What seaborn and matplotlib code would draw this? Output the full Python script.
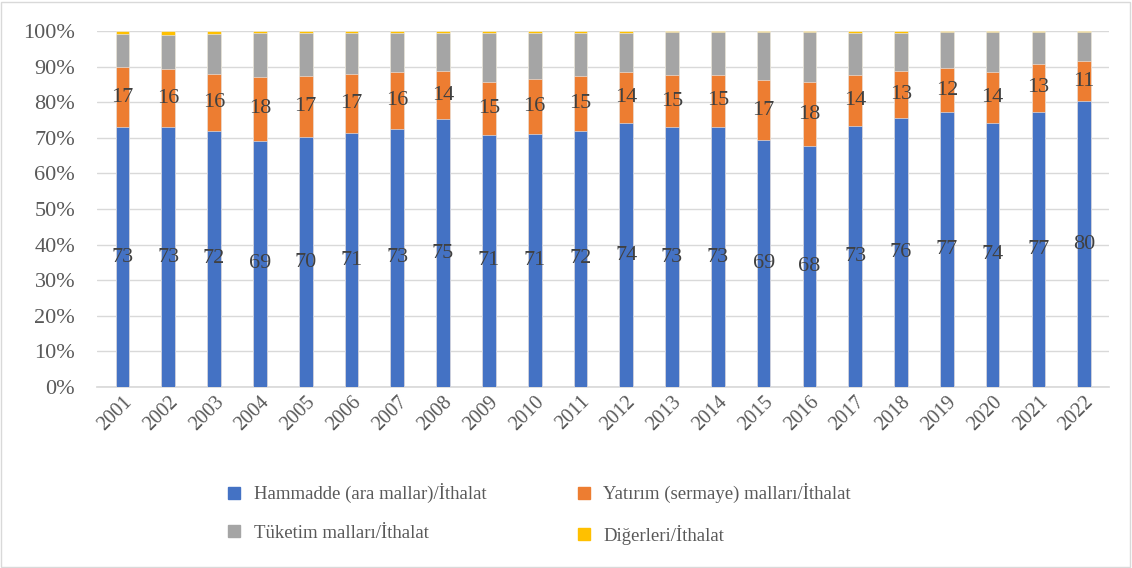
import numpy as np
import pandas as pd
import matplotlib.pyplot as plt
import seaborn as sns
from matplotlib.patches import Rectangle
from matplotlib.lines import Line2D

# ---------------------------------------------------------------------------
# Data (shares of imports, %)
# ---------------------------------------------------------------------------
years = [str(y) for y in range(2001, 2023)]
hammadde = [73.0, 73.0, 71.9, 69.2, 70.2, 71.3, 72.6, 75.2, 70.8, 71.0, 71.9,
            74.1, 73.0, 73.0, 69.3, 67.7, 73.4, 75.7, 77.3, 74.3, 77.4, 80.3]
yatirim = [16.9, 16.3, 16.2, 17.9, 17.3, 16.7, 16.0, 13.7, 15.0, 15.5, 15.4,
           14.3, 14.6, 14.8, 17.0, 18.0, 14.2, 13.0, 12.3, 14.3, 13.3, 11.2]
digerleri = [0.8, 1.1, 0.7, 0.5, 0.5, 0.4, 0.5, 0.4, 0.6, 0.4, 0.4,
             0.4, 0.3, 0.3, 0.3, 0.3, 0.4, 0.4, 0.3, 0.3, 0.2, 0.1]
tuketim = [100 - h - y - d for h, y, d in zip(hammadde, yatirim, digerleri)]

series = ["Hammadde (ara mallar)/İthalat", "Yatırım (sermaye) malları/İthalat",
          "Tüketim malları/İthalat", "Diğerleri/İthalat"]
colors = ["#4472C4", "#ED7D31", "#A5A5A5", "#FFC000"]

df = pd.DataFrame({"year": years, "h": hammadde, "y": yatirim,
                   "t": tuketim, "d": digerleri})
df["c1"] = df["h"]
df["c2"] = df["c1"] + df["y"]
df["c3"] = df["c2"] + df["t"]
df["c4"] = df["c3"] + df["d"]

# ---------------------------------------------------------------------------
# Plot
# ---------------------------------------------------------------------------
sns.set_theme(style="white")
plt.rcParams["font.family"] = ["Liberation Serif", "DejaVu Serif"]

fig, ax = plt.subplots(figsize=(11.32, 5.68), dpi=100)
fig.subplots_adjust(left=0.086, right=0.98, top=0.945, bottom=0.319)

# stacked bars: draw cumulative totals back to front
for col, color in zip(["c4", "c3", "c2", "c1"], colors[::-1]):
    sns.barplot(data=df, x="year", y=col, color=color, width=0.30,
                saturation=1, edgecolor="#f2f2f2", linewidth=0.4, ax=ax, zorder=3)

# data labels
for i, row in df.iterrows():
    ax.text(i, row["h"] / 2, f"{row['h']:.0f}", ha="center", va="center",
            fontsize=16, color="#404040", zorder=5)
    ax.text(i, row["h"] + row["y"] / 2, f"{row['y']:.0f}", ha="center",
            va="center", fontsize=16, color="#404040", zorder=5)

ax.set_ylim(0, 100)
ax.set_xlim(-0.55, len(years) - 0.45)
ax.set_yticks(np.arange(0, 101, 10))
ax.set_yticklabels([f"{v}%" for v in range(0, 101, 10)])
ax.yaxis.grid(True, color="#d9d9d9", linewidth=1, zorder=0)
ax.set_axisbelow(True)
ax.set_xlabel("")
ax.set_ylabel("")
for s in ["top", "right", "left"]:
    ax.spines[s].set_visible(False)
ax.spines["bottom"].set_color("#d9d9d9")
ax.tick_params(axis="both", length=0, colors="#595959")
ax.tick_params(axis="y", labelsize=16, pad=16)
ax.tick_params(axis="x", labelsize=14.5, pad=4)
plt.setp(ax.get_xticklabels(), rotation=45, ha="right", rotation_mode="anchor")

# legend, row-major order (ncol=2 fills column-first)
order = [0, 2, 1, 3]
handles = [Line2D([], [], marker="s", linestyle="", markersize=8,
                  markerfacecolor=colors[k], markeredgecolor=colors[k]) for k in order]
fig.legend(handles, [series[k] for k in order], loc="center",
           bbox_to_anchor=(0.471, 0.095), ncol=2, frameon=False, fontsize=13.5,
           handletextpad=0.05, columnspacing=4.2, labelspacing=1.15,
           labelcolor="#595959")

# chart-area border
fig.patches.append(Rectangle((0.001, 0.002), 0.997, 0.995, transform=fig.transFigure,
                             fill=False, edgecolor="#d9d9d9", linewidth=1))

fig.savefig("out.png", dpi=100)
